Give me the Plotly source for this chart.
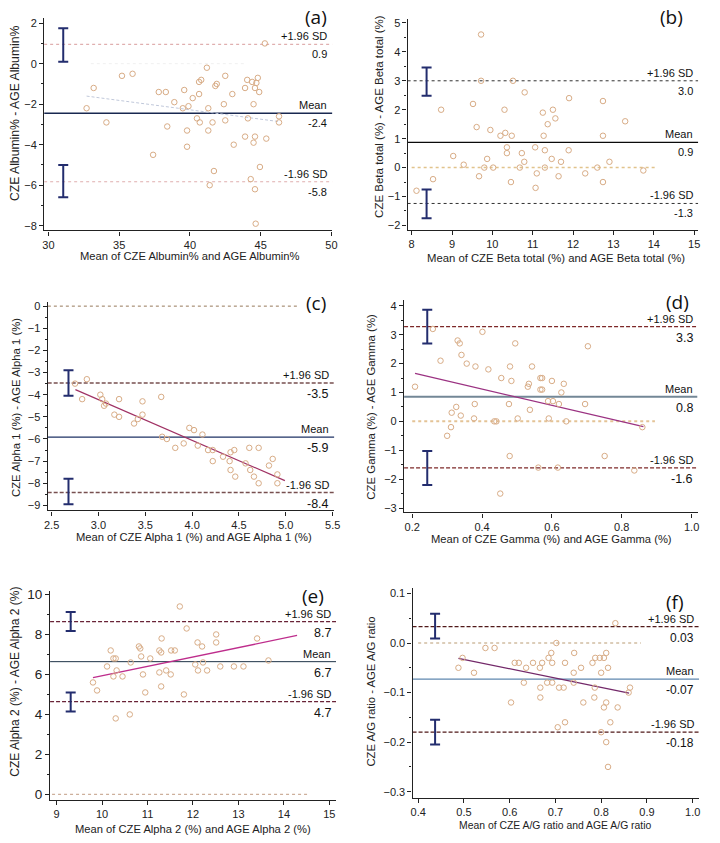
import plotly.graph_objects as go

W, H = 720, 843

# ---------------- data ----------------
# (a) Albumin
a_x = [32.7, 33.2, 34.1, 35.2, 35.95, 37.4, 37.8, 38.3, 38.4, 38.9, 39.6, 39.5, 39.8, 39.8, 39.9, 40.2, 40.5,
       40.65, 40.65, 40.8, 40.7, 41.2, 41.3, 41.3, 41.4, 41.6, 41.7, 41.8, 41.9, 42.4, 42.5, 42.5, 43.0, 43.1,
       43.9, 43.9, 44.05, 44.1, 44.3, 44.4, 44.5, 44.5, 44.6, 44.6, 44.6, 44.65, 44.7, 44.8, 44.9, 44.95,
       45.4, 45.3, 46.3, 46.3]
a_y = [-2.2, -1.2, -2.9, -0.6, -0.5, -4.5, -1.4, -1.4, -3.1, -1.9, -1.3, -2.2, -3.3, -4.1, -2.1, -1.7, -2.7,
       -1.5, -0.9, -0.8, -2.9, -0.2, -3.3, -2.2, -6.0, -2.9, -5.3, -1.1, -1.0, -2.0, -0.6, -2.8, -1.5, -4.0,
       -1.2, -3.6, -0.8, -2.7, -5.7, -0.9, -2.0, -3.9, -6.2, -1.2, -3.6, -7.9, -0.95, -0.7, -1.4, -5.1,
       -3.7, 1.0, -2.9, -2.6]
a_stats = [0.95, -2.45, -5.83]            # +1.96 SD, mean, -1.96 SD
a_labels = ["0.9", "-2.4", "-5.8"]
a_ci_x = 31.05
a_ci = [[0.1, 1.75], [-6.6, -5.0]]
a_reg_x = [32.7, 46.3]
a_reg_y = [-1.6, -2.86]
a_zero_x = [33.0, 44.0]

# (b) Beta total
b_x = [8.12, 8.53, 8.73, 9.03, 9.29, 9.52, 9.61, 9.67, 9.72, 9.72, 9.8, 9.87, 9.95, 10.02, 10.2, 10.3, 10.32,
       10.36, 10.36, 10.46, 10.48, 10.51, 10.68, 10.73, 10.79, 10.8, 11.06, 11.07, 11.1, 11.25, 11.27, 11.3,
       11.3, 11.37, 11.47, 11.5, 11.56, 11.64, 11.7, 11.89, 11.9, 12.3, 12.6, 12.74, 12.74, 12.74, 12.9,
       13.29, 13.74]
b_y = [-0.8, -0.4, 2.0, 0.4, 0.1, 2.2, 1.4, -0.3, 4.6, 3.0, 0.0, 0.3, 1.3, 0.0, 1.1, 2.0, 1.2, 0.7, 0.5,
       -0.5, 1.1, 3.0, 0.0, 0.5, 0.2, 2.6, 0.7, -0.7, -0.2, 1.9, 1.1, 0.6, 0.0, 1.5, 0.3, 2.0, 1.7, -0.3, 0.2,
       0.6, 2.4, -0.2, 0.0, 2.3, 1.1, -0.5, 0.2, 1.6, -0.1]
b_stats = [3.0, 0.87, -1.24]
b_labels = ["3.0", "0.9", "-1.3"]
b_ci_x = 8.37
b_ci = [[2.48, 3.46], [-1.75, -0.76]]
b_zero_x = [8.0, 14.05]

# (c) Alpha 1
c_x = [2.75, 2.876, 2.826, 3.02, 3.04, 3.08, 3.06, 3.22, 3.47, 3.67, 3.17, 3.22, 3.38, 3.42, 3.47, 3.68, 3.73,
       3.82, 3.91, 3.97, 4.02, 4.11, 4.06, 4.17, 4.22, 4.22, 4.33, 4.41, 4.45, 4.40, 4.41, 4.46, 4.57, 4.61,
       4.71, 4.62, 4.66, 4.71, 4.82, 4.86, 4.91, 4.91]
c_y = [-3.5, -3.3, -4.2, -4.0, -4.2, -4.4, -4.5, -4.2, -4.3, -4.1, -4.9, -5.0, -5.3, -5.1, -4.9, -5.9, -6.0,
       -6.4, -6.2, -5.5, -5.6, -5.8, -6.3, -6.5, -6.5, -7.0, -6.8, -6.6, -6.5, -7.0, -7.4, -7.7, -7.1, -6.4,
       -6.4, -7.4, -7.7, -8.0, -7.2, -6.9, -7.6, -8.0]
c_stats = [-3.47, -5.92, -8.42]
c_labels = ["-3.5", "-5.9", "-8.4"]
c_ci_x = 2.68
c_ci = [[-4.05, -2.9], [-8.95, -7.8]]
c_reg_x = [2.754, 4.99]
c_reg_y = [-3.77, -7.88]
c_zero_x = [2.46, 5.15]

# (d) Gamma
d_x = [0.208, 0.401, 0.330, 0.336, 0.495, 0.703, 0.281, 0.341, 0.356, 0.381, 0.418, 0.480, 0.543, 0.455,
       0.484, 0.531, 0.534, 0.567, 0.572, 0.567, 0.572, 0.600, 0.634, 0.627, 0.379, 0.326, 0.313, 0.339,
       0.377, 0.311, 0.300, 0.435, 0.441, 0.477, 0.537, 0.502, 0.591, 0.641, 0.695, 0.589, 0.603, 0.620,
       0.859, 0.479, 0.751, 0.561, 0.617, 0.836, 0.452, 0.259]
d_y = [1.2, 3.1, 2.8, 2.7, 2.7, 2.6, 2.1, 2.3, 2.0, 1.9, 1.8, 1.9, 1.9, 1.5, 1.4, 1.2, 1.3, 1.5, 1.5, 1.1,
       1.1, 1.4, 1.3, 1.0, 0.6, 0.5, 0.3, 0.2, 0.1, -0.2, -0.5, 0.0, 0.0, 0.6, 0.4, 0.1, 0.1, 0.0, 0.6, 0.7,
       0.7, 0.6, -0.2, -1.2, -1.2, -1.6, -1.6, -1.7, -2.5, 3.2]
d_stats = [3.28, 0.85, -1.61]
d_labels = ["3.3", "0.8", "-1.6"]
d_ci_x = 0.243
d_ci = [[2.7, 3.86], [-2.2, -1.03]]
d_reg_x = [0.208, 0.862]
d_reg_y = [1.66, -0.18]
d_zero_x = [0.2, 0.895]

# (e) Alpha 2
e_x = [11.71, 11.86, 12.51, 12.51, 13.41, 11.31, 10.81, 10.84, 10.19, 11.26, 11.3, 11.52, 11.6, 12.1, 12.2,
       10.86, 10.3, 10.11, 10.63, 11.06, 10.25, 10.45, 10.32, 10.9, 11.26, 11.41, 11.51, 12.05, 12.22, 12.11,
       12.31, 12.6, 12.9, 13.11, 13.66, 9.8, 9.89, 10.95, 11.3, 11.8, 10.3, 10.61, 10.25]
e_y = [9.4, 8.3, 8.0, 7.6, 7.8, 7.8, 7.4, 7.3, 7.2, 7.2, 7.1, 7.2, 7.2, 7.6, 7.4, 6.9, 6.8, 6.4, 6.6, 6.8,
       5.9, 5.9, 6.2, 6.0, 6.1, 6.2, 6.0, 6.5, 6.6, 6.2, 6.2, 6.4, 6.4, 6.4, 6.7, 5.6, 5.2, 5.1, 5.4, 5.0,
       3.8, 4.0, 6.8]
e_stats = [8.64, 6.64, 4.64]
e_labels = ["8.7", "6.7", "4.7"]
e_ci_x = 9.31
e_ci = [[8.17, 9.12], [4.15, 5.1]]
e_reg_x = [9.8, 14.29]
e_reg_y = [5.84, 7.95]
e_zero_x = [8.9, 14.57]

# (f) A/G ratio
f_x = [0.831, 0.702, 0.547, 0.567, 0.488, 0.497, 0.522, 0.611, 0.62, 0.636, 0.651, 0.666, 0.671, 0.685,
       0.691, 0.693, 0.721, 0.741, 0.74, 0.756, 0.781, 0.787, 0.797, 0.806, 0.811, 0.80, 0.815, 0.631, 0.667,
       0.682, 0.693, 0.708, 0.718, 0.74, 0.786, 0.667, 0.785, 0.863, 0.86, 0.603, 0.761, 0.806, 0.811, 0.836,
       0.705, 0.721, 0.82, 0.80, 0.811, 0.815]
f_y = [0.04, 0.0, -0.01, -0.01, -0.05, -0.03, -0.06, -0.04, -0.04, -0.05, -0.04, -0.05, -0.04, -0.03, -0.02,
       -0.04, -0.04, -0.02, -0.06, -0.05, -0.04, -0.03, -0.03, -0.03, -0.02, -0.06, -0.05, -0.08, -0.09, -0.08,
       -0.08, -0.09, -0.09, -0.08, -0.09, -0.11, -0.11, -0.09, -0.10, -0.12, -0.12, -0.13, -0.12, -0.13,
       -0.17, -0.16, -0.16, -0.18, -0.20, -0.25]
f_stats = [0.033, -0.073, -0.18]
f_labels = ["0.03", "-0.07", "-0.18"]
f_ci_x = 0.437
f_ci = [[0.009, 0.059], [-0.205, -0.155]]
f_reg_x = [0.488, 0.861]
f_reg_y = [-0.031, -0.101]
f_zero_x = [0.4, 0.887]

x_titles = ["Mean of CZE Albumin% and AGE Albumin%",
            "Mean of CZE Beta total (%) and AGE Beta total (%)",
            "Mean of CZE Alpha 1 (%) and AGE Alpha 1 (%)",
            "Mean of CZE Gamma (%) and AGE Gamma (%)",
            "Mean of CZE Alpha 2 (%) and AGE Alpha 2 (%)",
            "Mean of CZE A/G ratio and AGE A/G ratio"]
y_titles = ["CZE Albumin% - AGE Albumin%",
            "CZE Beta total (%) - AGE Beta total (%)",
            "CZE Alpha 1 (%) - AGE Alpha 1 (%)",
            "CZE Gamma (%) - AGE Gamma (%)",
            "CZE Alpha 2 (%) - AGE Alpha 2 (%)",
            "CZE A/G ratio - AGE A/G ratio"]
panel_letters = ["(a)", "(b)", "(c)", "(d)", "(e)", "(f)"]

# ---------------- layout / styles ----------------
FONT = "Liberation Sans, Arial, sans-serif"
PT = "rgb(216,172,134)"
NAVY = "rgb(35,45,110)"
FINE_DASH = "4px,2px"

panels = [
    dict(x=a_x, y=a_y, stats=a_stats, labels=a_labels, ci_x=a_ci_x, ci=a_ci, reg=(a_reg_x, a_reg_y), zero=a_zero_x,
         box=(40.7, 333, 14, 228), xr=[29.7, 50.07], yr=[-8.23, 2.26], xt=dict(tick0=30, dtick=5), yt=dict(tick0=-8, dtick=2),
         xfmt="", yfmt="", ymin=1,
         sd=dict(color="rgb(224,175,175)", width=1.2, dash="dot"), mean=dict(color="rgb(25,40,80)", width=1.4),
         regl=dict(color="rgb(192,200,218)", width=1, dash="3px,2px"), zl=dict(color="rgb(240,240,240)", width=1, dash="dot"),
         lab_fs=11, val_fs=11, letter=(316.7, 13.5), xtit=(188.7, 254), ytit=(11, 110), ytick_fs=11,
         xt_fs=11.2, yt_fs=12.2),
    dict(x=b_x, y=b_y, stats=b_stats, labels=b_labels, ci_x=b_ci_x, ci=b_ci, reg=None, zero=b_zero_x,
         box=(409.3, 704, 14.7, 227.7), xr=[7.9, 15.1], yr=[-2.16, 5.15], xt=dict(tick0=8, dtick=1), yt=dict(tick0=-2, dtick=1),
         xfmt="", yfmt="", ymin=0.5,
         sd=dict(color="rgb(50,50,50)", width=1, dash="dot"), mean=dict(color="rgb(10,10,10)", width=1.4),
         regl=None, zl=dict(color="rgb(225,195,140)", width=1.5, dash="dot"),
         lab_fs=11, val_fs=11, letter=(676.7, 13.5), xtit=(560, 256), ytit=(380, 113), ytick_fs=11,
         xt_fs=11.3, yt_fs=11.5),
    dict(x=c_x, y=c_y, stats=c_stats, labels=c_labels, ci_x=c_ci_x, ci=c_ci, reg=(c_reg_x, c_reg_y), zero=c_zero_x,
         box=(44.3, 335, 300, 510), xr=[2.458, 5.518], yr=[-9.224, 0.193], xt=dict(tick0=2.5, dtick=0.5), yt=dict(tick0=-9, dtick=1),
         xfmt=".1f", yfmt="", ymin=0.5,
         sd=dict(color="rgb(120,80,80)", width=1.4, dash=FINE_DASH), mean=dict(color="rgb(30,50,100)", width=1.2),
         regl=dict(color="rgb(160,50,100)", width=1.2), zl=dict(color="rgb(150,120,90)", width=1, dash="dot"),
         lab_fs=11, val_fs=12.5, letter=(316.7, 300.7), xtit=(193, 537), ytit=(12, 406), ytick_fs=11,
         xt_fs=11.2, yt_fs=11.3),
    dict(x=d_x, y=d_y, stats=d_stats, labels=d_labels, ci_x=d_ci_x, ci=d_ci, reg=(d_reg_x, d_reg_y), zero=d_zero_x,
         box=(405.7, 703.3, 298, 512), xr=[0.1766, 1.017], yr=[-3.15, 4.206], xt=dict(tick0=0.2, dtick=0.2), yt=dict(tick0=-3, dtick=1),
         xfmt=".1f", yfmt="", ymin=0.5,
         sd=dict(color="rgb(125,40,40)", width=1.2, dash=FINE_DASH), mean=dict(color="rgb(115,135,150)", width=2),
         regl=dict(color="rgb(155,50,130)", width=1.2), zl=dict(color="rgb(228,195,150)", width=2, dash="dot"),
         lab_fs=11, val_fs=12.5, letter=(683, 300), xtit=(555, 539), ytit=(372.7, 406), ytick_fs=11,
         xt_fs=11.2, yt_fs=11.4),
    dict(x=e_x, y=e_y, stats=e_stats, labels=e_labels, ci_x=e_ci_x, ci=e_ci, reg=(e_reg_x, e_reg_y), zero=e_zero_x,
         box=(46.7, 336.7, 591.7, 801.7), xr=[8.856, 15.146], yr=[-0.28, 10.15], xt=dict(tick0=9, dtick=1), yt=dict(tick0=0, dtick=2),
         xfmt="", yfmt="", ymin=1,
         sd=dict(color="rgb(105,35,55)", width=1.3, dash=FINE_DASH), mean=dict(color="rgb(30,50,70)", width=1),
         regl=dict(color="rgb(190,45,140)", width=1.3), zl=dict(color="rgb(205,175,155)", width=1.2, dash="dot"),
         lab_fs=11, val_fs=12.5, letter=(313, 596), xtit=(191.7, 830.7), ytit=(11.7, 683), ytick_fs=13.5,
         xt_fs=11.2, yt_fs=12),
    dict(x=f_x, y=f_y, stats=f_stats, labels=f_labels, ci_x=f_ci_x, ci=f_ci, reg=(f_reg_x, f_reg_y), zero=f_zero_x,
         box=(414.3, 705, 588.3, 799.3), xr=[0.3877, 1.0143], yr=[-0.312, 0.1108], xt=dict(tick0=0.4, dtick=0.1), yt=dict(tick0=-0.3, dtick=0.1),
         xfmt=".1f", yfmt=".1f", ymin=0.05,
         sd=dict(color="rgb(80,25,25)", width=1.3, dash=FINE_DASH), mean=dict(color="rgb(95,135,175)", width=1.2),
         regl=dict(color="rgb(115,40,105)", width=1.3), zl=dict(color="rgb(185,155,115)", width=1, dash="dot"),
         lab_fs=11, val_fs=12, letter=(680, 602.7), xtit=(559, 827.3), ytit=(372.7, 693), ytick_fs=11,
         xt_fs=10.4, yt_fs=11.3),
]

fig = go.Figure()
annotations = []
layout = dict(width=W, height=H, margin=dict(l=0, r=0, t=0, b=0), paper_bgcolor="white", plot_bgcolor="white",
              showlegend=False, font=dict(family=FONT, color="#111"))

for i, p in enumerate(panels, start=1):
    sfx = "" if i == 1 else str(i)
    xa, ya = "x" + sfx, "y" + sfx
    l, r, t, b = p["box"]
    xr = p["xr"]
    common = dict(xaxis=xa, yaxis=ya, showlegend=False, hoverinfo="skip")

    # zero line
    fig.add_trace(go.Scatter(x=p["zero"], y=[0, 0], mode="lines", line=p["zl"], **common))
    # limits of agreement and mean
    for k, v in enumerate(p["stats"]):
        fig.add_trace(go.Scatter(x=xr, y=[v, v], mode="lines", line=(p["mean"] if k == 1 else p["sd"]), **common))
    # regression line
    if p["reg"] is not None:
        fig.add_trace(go.Scatter(x=p["reg"][0], y=p["reg"][1], mode="lines", line=p["regl"], **common))
    # points
    fig.add_trace(go.Scatter(x=p["x"], y=p["y"], mode="markers",
                             marker=dict(symbol="circle-open", size=5.5, color=PT, line=dict(width=1, color=PT)),
                             **common))
    # confidence interval bars
    cis = p["ci"]
    fig.add_trace(go.Scatter(x=[p["ci_x"]] * len(cis), y=[(c[0] + c[1]) / 2 for c in cis], mode="markers",
                             marker=dict(size=1, color="rgba(0,0,0,0)"),
                             error_y=dict(type="data", array=[(c[1] - c[0]) / 2 for c in cis], color=NAVY,
                                          thickness=2, width=5),
                             **common))

    axis_font = dict(family=FONT, size=11, color="#222")
    layout["xaxis" + sfx] = dict(domain=[l / W, r / W], range=xr, anchor=ya, showline=True, linecolor="#222",
                                 linewidth=1.3, ticks="outside", ticklen=4, tickcolor="#222", tickwidth=1,
                                 tick0=p["xt"]["tick0"], dtick=p["xt"]["dtick"], tickformat=p["xfmt"],
                                 tickfont=axis_font, showgrid=False, zeroline=False)
    layout["yaxis" + sfx] = dict(domain=[(H - b) / H, (H - t) / H], range=p["yr"], anchor=xa, showline=True,
                                 linecolor="#222", linewidth=1.3, ticks="outside", ticklen=4, tickcolor="#222",
                                 tickwidth=1, tick0=p["yt"]["tick0"], dtick=p["yt"]["dtick"], tickformat=p["yfmt"],
                                 tickfont=dict(family=FONT, size=p["ytick_fs"], color="#222"),
                                 showgrid=False, zeroline=False,
                                 minor=dict(ticks="outside", ticklen=2, tickcolor="#222", dtick=p["ymin"]))

    # labels on lines
    names = ["+1.96 SD", "Mean", "-1.96 SD"]
    for k, v in enumerate(p["stats"]):
        annotations.append(dict(xref=xa + " domain", yref=ya, x=1, y=v, xanchor="right", yanchor="bottom",
                                xshift=-3, yshift=0, text=names[k], showarrow=False,
                                font=dict(family=FONT, size=p["lab_fs"], color="#111")))
        annotations.append(dict(xref=xa + " domain", yref=ya, x=1, y=v, xanchor="right", yanchor="top",
                                xshift=-3, yshift=-2, text=p["labels"][k], showarrow=False,
                                font=dict(family=FONT, size=p["val_fs"], color="#111")))
    # panel letter
    lx, ly = p["letter"]
    annotations.append(dict(xref="paper", yref="paper", x=lx / W, y=1 - ly / H, xanchor="center", yanchor="middle",
                            text=panel_letters[i - 1], showarrow=False,
                            font=dict(family="Open Sans, sans-serif", size=19, color="#111")))
    # axis titles
    tx, ty = p["xtit"]
    annotations.append(dict(xref="paper", yref="paper", x=tx / W, y=1 - ty / H, xanchor="center", yanchor="middle",
                            text=x_titles[i - 1], showarrow=False,
                            font=dict(family=FONT, size=p["xt_fs"], color="#222")))
    yx, yy = p["ytit"]
    annotations.append(dict(xref="paper", yref="paper", x=yx / W, y=1 - yy / H, xanchor="center", yanchor="middle",
                            text=y_titles[i - 1], textangle=-90, showarrow=False,
                            font=dict(family=FONT, size=p["yt_fs"], color="#222")))

layout["annotations"] = annotations
fig.update_layout(**layout)
fig.write_html("out.html")
